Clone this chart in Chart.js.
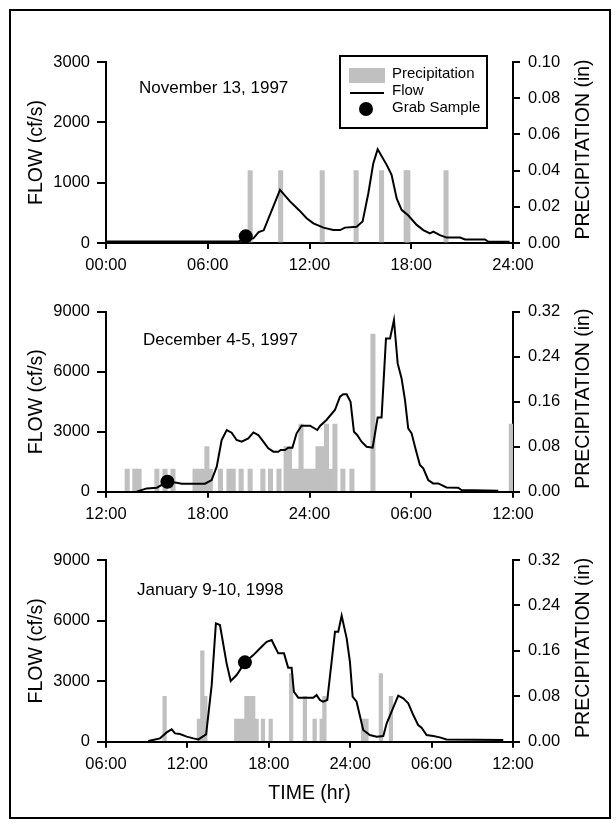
<!DOCTYPE html>
<html>
<head>
<meta charset="utf-8">
<script src="https://cdn.jsdelivr.net/npm/chart.js@4.4.1/dist/chart.umd.min.js"></script>
<style>
  html, body { margin: 0; padding: 0; background: #fff; }
  #page { position: relative; width: 616px; height: 825px; overflow: hidden; }
  #frame { position: absolute; left: 9px; top: 9px; width: 598px; height: 806px; border: 2px solid #000; }
  canvas { position: absolute; left: 0; }
</style>
</head>
<body>
<div id="page">
  <div id="frame"></div>
  <canvas id="novChart" width="616" height="275" style="top:0px"></canvas>
  <canvas id="decChart" width="616" height="250" style="top:275px"></canvas>
  <canvas id="janChart" width="616" height="300" style="top:525px"></canvas>
</div>
<script>
// November 13, 1997 -- hours after midnight
const novFlowHours = [0, 7.8, 8.2, 8.69, 9.0, 9.3, 10.26, 10.85, 11.4, 11.83, 12.23, 12.82, 13.4, 13.8, 14.09, 14.78, 15.13, 15.47, 15.76, 16.02, 16.55, 16.84, 17.14, 17.43, 17.83, 18.32, 18.71, 19.1, 19.3, 19.69, 20.09, 20.88, 21.17, 22.35, 22.55, 23.8];
const novFlow = [25, 25, 60, 78, 180, 210, 880, 690, 540, 410, 325, 255, 215, 215, 255, 270, 355, 825, 1320, 1555, 1295, 1130, 740, 550, 455, 300, 215, 160, 190, 130, 90, 90, 60, 60, 20, 20];
const novRainHours = [8.5, 10.3, 12.75, 14.75, 16.25, 17.7, 17.8, 20.05];
const novRain = [0.04, 0.04, 0.04, 0.04, 0.04, 0.04, 0.04, 0.04];
const novSampleHours = [8.24];
const novSampleFlow = [110];

// December 4-5, 1997 -- hours after midnight of Dec 4
const decFlowHours = [13.81, 14.4, 15.0, 15.62, 16.17, 16.46, 17.84, 18.23, 18.53, 18.82, 19.12, 19.41, 19.7, 20.0, 20.39, 20.69, 20.98, 21.28, 21.57, 21.87, 22.16, 22.3, 22.55, 22.75, 22.99, 23.24, 23.53, 24.03, 24.46, 24.62, 25.0, 25.5, 25.8, 25.99, 26.19, 26.42, 26.62, 26.81, 27.07, 27.37, 27.72, 27.8, 28.02, 28.25, 28.51, 28.75, 28.98, 29.2, 29.43, 29.63, 29.82, 30.02, 30.22, 30.51, 30.71, 31.0, 31.29, 31.59, 32.08, 32.77, 32.96, 35.13];
const decFlow = [0, 165, 200, 500, 450, 400, 400, 585, 1250, 2585, 3085, 2950, 2585, 2500, 2665, 2965, 2835, 2500, 2170, 2000, 2000, 2085, 2085, 2200, 2200, 2920, 3300, 3300, 3085, 3285, 3585, 4085, 4750, 4870, 4870, 4500, 3000, 2835, 2500, 2250, 2200, 2585, 3715, 3715, 7665, 7665, 8585, 6415, 5665, 4585, 3170, 2920, 2250, 1335, 1165, 585, 415, 415, 215, 200, 85, 50];
const decRainHours = [13.25, 13.7, 13.95, 15.0, 15.48, 15.95, 17.25, 17.5, 17.75, 17.95, 18.15, 18.75, 19.25, 19.5, 19.97, 20.5, 21.25, 21.7, 22.2, 22.62, 22.82, 23.0, 23.25, 23.5, 23.75, 24.0, 24.25, 24.5, 24.75, 25.0, 25.25, 25.5, 25.97, 26.5, 27.74, 35.9];
const decRain = [0.04, 0.04, 0.04, 0.04, 0.04, 0.04, 0.04, 0.04, 0.04, 0.08, 0.04, 0.04, 0.04, 0.04, 0.04, 0.04, 0.04, 0.04, 0.04, 0.08, 0.08, 0.04, 0.04, 0.12, 0.04, 0.04, 0.04, 0.08, 0.08, 0.12, 0.04, 0.12, 0.04, 0.04, 0.28, 0.12];
const decSampleHours = [15.62];
const decSampleFlow = [500];

// January 9-10, 1998 -- hours after midnight of Jan 9
const janFlowHours = [9.12, 9.98, 10.47, 10.84, 11.09, 11.45, 11.95, 12.44, 12.81, 13.38, 13.79, 14.1, 14.4, 14.89, 15.19, 15.63, 16.24, 16.86, 17.47, 17.84, 18.21, 18.45, 18.7, 19.12, 19.43, 19.68, 19.85, 20.17, 21.28, 21.52, 21.77, 22.0, 22.31, 22.88, 23.12, 23.37, 23.74, 23.98, 24.18, 24.47, 24.96, 25.45, 25.95, 26.44, 26.69, 27.05, 27.54, 27.91, 28.28, 28.65, 29.01, 29.26, 29.63, 30.12, 30.61, 31.1, 35.28];
const janFlow = [30, 165, 460, 610, 410, 380, 250, 165, 115, 365, 2800, 5860, 5780, 3880, 3005, 3300, 3930, 4290, 4705, 4950, 5035, 4705, 4375, 4375, 3665, 3665, 2475, 2180, 2180, 2310, 2065, 1980, 2065, 5450, 5450, 6240, 5120, 3960, 2230, 1980, 580, 330, 250, 280, 910, 1490, 2280, 2145, 1900, 1320, 825, 695, 330, 280, 215, 115, 80];
const janRainHours = [10.32, 12.85, 13.1, 13.32, 15.6, 15.85, 16.1, 16.35, 16.6, 16.85, 17.1, 17.57, 18.14, 19.65, 20.66, 21.38, 21.9, 22.1, 24.95, 25.2, 26.26, 27.0];
const janRain = [0.08, 0.04, 0.16, 0.08, 0.04, 0.04, 0.04, 0.08, 0.08, 0.08, 0.04, 0.04, 0.04, 0.12, 0.08, 0.04, 0.04, 0.08, 0.04, 0.04, 0.12, 0.08];
const janSampleHours = [16.24];
const janSampleFlow = [3930];

const panelTitles = ['November 13, 1997', 'December 4-5, 1997', 'January 9-10, 1998'];
const legendLabels = ['Precipitation', 'Flow', 'Grab Sample'];
const flowTitle = 'FLOW (cf/s)';
const rainTitle = 'PRECIPITATION (in)';
const timeTitle = 'TIME (hr)';

const family = "'Liberation Sans', Arial, Helvetica, sans-serif";
Chart.defaults.font.family = family;
Chart.defaults.color = '#000';

function toPoints(xs, ys) {
  return xs.map((x, i) => ({ x: x, y: ys[i] }));
}

// clock label, 24:00 kept as-is, later hours wrap to the next day
function hourLabel(v) {
  if (v === 24) return '24:00';
  return String(v % 24).padStart(2, '0') + ':00';
}

// date caption + right axis title (reads bottom to top like the left one)
const panelText = {
  id: 'panelText',
  afterDraw(chart, args, opts) {
    const ctx = chart.ctx;
    const area = chart.chartArea;
    ctx.save();
    ctx.fillStyle = '#000';
    ctx.font = '17px ' + family;
    ctx.textAlign = 'left';
    ctx.textBaseline = 'middle';
    ctx.fillText(opts.label, opts.labelX, opts.labelY);
    ctx.font = '19.5px ' + family;
    ctx.translate(opts.titleX, (area.top + area.bottom) / 2 - 3);
    ctx.rotate(-Math.PI / 2);
    ctx.textAlign = 'center';
    ctx.fillText(opts.rightTitle, 0, 0);
    ctx.restore();
  }
};

// boxed legend inside the first panel
const boxLegend = {
  id: 'boxLegend',
  afterDraw(chart, args, opts) {
    if (!opts.show) return;
    const ctx = chart.ctx;
    const sample = chart.data.datasets[0];
    const flow = chart.data.datasets[1];
    const rain = chart.data.datasets[2];
    const x = opts.x, y = opts.y;
    ctx.save();
    ctx.lineWidth = 2;
    ctx.strokeStyle = '#000';
    ctx.strokeRect(x, y, opts.width, opts.height);
    ctx.fillStyle = rain.backgroundColor;
    ctx.fillRect(x + 9, y + 12, 36, 15);
    ctx.beginPath();
    ctx.moveTo(x + 10, y + 37);
    ctx.lineTo(x + 44, y + 37);
    ctx.stroke();
    ctx.fillStyle = '#000';
    ctx.beginPath();
    ctx.arc(x + 26, y + 53, 7, 0, Math.PI * 2);
    ctx.fill();
    ctx.font = '15px ' + family;
    ctx.textAlign = 'left';
    ctx.textBaseline = 'middle';
    ctx.fillText(rain.label, x + 52, y + 18);
    ctx.fillText(flow.label, x + 52, y + 35);
    ctx.fillText(sample.label, x + 52, y + 52);
    ctx.restore();
  }
};

function makePanel(canvasId, p) {
  const canvas = document.getElementById(canvasId);
  const tickFont = { size: 16.5 };
  const axisGrid = (len) => ({ drawOnChartArea: false, offset: false, color: '#000', lineWidth: 2, tickLength: len });
  const axisBorder = { color: '#000', width: 2 };

  return new Chart(canvas, {
    type: 'bar',
    data: {
      datasets: [
        {
          type: 'line',
          label: legendLabels[2],
          data: toPoints(p.sampleHours, p.sampleFlow),
          yAxisID: 'y',
          showLine: false,
          pointRadius: 7,
          pointBackgroundColor: '#000',
          pointBorderWidth: 0,
          clip: false,
          order: 1
        },
        {
          type: 'line',
          label: legendLabels[1],
          data: toPoints(p.flowHours, p.flow),
          yAxisID: 'y',
          borderColor: '#000',
          borderWidth: 2,
          pointRadius: 0,
          tension: 0,
          order: 2
        },
        {
          type: 'bar',
          label: legendLabels[0],
          data: toPoints(p.rainHours, p.rain),
          yAxisID: 'y2',
          backgroundColor: '#c0c0c0',
          barThickness: p.barWidth,
          order: 3
        }
      ]
    },
    options: {
      responsive: false,
      devicePixelRatio: 1,
      animation: false,
      layout: { padding: { top: p.top, left: 0, right: 0, bottom: 0 } },
      plugins: {
        legend: { display: false },
        tooltip: { enabled: false },
        panelText: { label: p.label, labelX: p.labelX, labelY: p.labelY, rightTitle: rainTitle, titleX: 583.5 },
        boxLegend: { show: p.legend, x: 340, y: 56, width: 147, height: 72 }
      },
      scales: {
        x: {
          type: 'linear',
          min: p.xMin,
          max: p.xMax,
          offset: false,
          grid: axisGrid(6),
          border: axisBorder,
          ticks: { stepSize: 6, callback: hourLabel, maxRotation: 0, autoSkip: false, padding: 7, font: tickFont },
          title: { display: p.timeTitle, text: timeTitle, font: { size: 19.5 }, padding: { top: 0, bottom: 20 } },
          afterFit: (s) => { s.height = p.xAxisHeight; }
        },
        y: {
          position: 'left',
          min: 0,
          max: p.flowMax,
          grid: axisGrid(9),
          border: axisBorder,
          ticks: { stepSize: p.flowStep, callback: (v) => String(v), padding: 7, font: tickFont },
          title: { display: true, text: flowTitle, font: { size: 19.5 }, padding: { top: 25, bottom: 0 } },
          afterFit: (s) => { s.width = 106; }
        },
        y2: {
          position: 'right',
          min: 0,
          max: p.rainMax,
          grid: axisGrid(7),
          border: axisBorder,
          ticks: { stepSize: p.rainStep, callback: (v) => v.toFixed(2), padding: 8, font: tickFont },
          afterFit: (s) => { s.width = 103; }
        }
      }
    },
    plugins: [panelText, boxLegend]
  });
}

makePanel('novChart', {
  flowHours: novFlowHours, flow: novFlow,
  rainHours: novRainHours, rain: novRain,
  sampleHours: novSampleHours, sampleFlow: novSampleFlow,
  xMin: 0, xMax: 24, flowMax: 3000, flowStep: 1000, rainMax: 0.1, rainStep: 0.02,
  top: 62, xAxisHeight: 32, barWidth: 4.4,
  label: panelTitles[0], labelX: 139, labelY: 88, legend: true, timeTitle: false
});

makePanel('decChart', {
  flowHours: decFlowHours, flow: decFlow,
  rainHours: decRainHours, rain: decRain,
  sampleHours: decSampleHours, sampleFlow: decSampleFlow,
  xMin: 12, xMax: 36, flowMax: 9000, flowStep: 3000, rainMax: 0.32, rainStep: 0.08,
  top: 36.7, xAxisHeight: 33.3, barWidth: 4.4,
  label: panelTitles[1], labelX: 143, labelY: 65, legend: false, timeTitle: false
});

makePanel('janChart', {
  flowHours: janFlowHours, flow: janFlow,
  rainHours: janRainHours, rain: janRain,
  sampleHours: janSampleHours, sampleFlow: janSampleFlow,
  xMin: 6, xMax: 36, flowMax: 9000, flowStep: 3000, rainMax: 0.32, rainStep: 0.08,
  top: 35, xAxisHeight: 83.3, barWidth: 3.6,
  label: panelTitles[2], labelX: 137, labelY: 65, legend: false, timeTitle: true
});
</script>
</body>
</html>
